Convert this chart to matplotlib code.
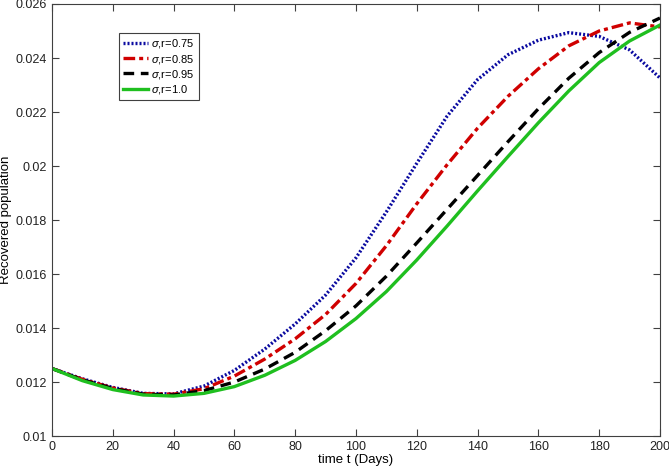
import matplotlib
matplotlib.use("Agg")
import matplotlib.pyplot as plt

plt.rcParams['font.family'] = ['Liberation Sans', 'DejaVu Sans']
plt.rcParams['mathtext.fontset'] = 'custom'
plt.rcParams['mathtext.it'] = 'Liberation Sans:italic'

# days
t = [0, 10, 20, 30, 40, 50, 60, 70, 80, 90, 100,
     110, 120, 130, 140, 150, 160, 170, 180, 190, 200]

# recovered population for each sigma,r value
r075 = [0.0125, 0.01212, 0.01180, 0.01158, 0.01156, 0.01185, 0.01243, 0.01322, 0.01415, 0.01522, 0.01660,
        0.01830, 0.02010, 0.02185, 0.02320, 0.02412, 0.02466, 0.02494, 0.02480, 0.02430, 0.02326]
r085 = [0.0125, 0.01210, 0.01178, 0.01157, 0.01155, 0.01175, 0.01222, 0.01285, 0.01360, 0.01450, 0.01565,
        0.01705, 0.01860, 0.02005, 0.02140, 0.02258, 0.02360, 0.02445, 0.02500, 0.02530, 0.02515]
r095 = [0.0125, 0.01208, 0.01176, 0.01155, 0.01152, 0.01168, 0.01200, 0.01248, 0.01310, 0.01390, 0.01482,
        0.01592, 0.01715, 0.01840, 0.01965, 0.02090, 0.02212, 0.02325, 0.02420, 0.02495, 0.02548]
r100 = [0.0125, 0.01205, 0.01172, 0.01152, 0.01148, 0.01158, 0.01183, 0.01225, 0.01280, 0.01350, 0.01435,
        0.01535, 0.01652, 0.01778, 0.01908, 0.02035, 0.02160, 0.02278, 0.02383, 0.02463, 0.02522]

labels = ['$\\sigma$,r=0.75', '$\\sigma$,r=0.85', '$\\sigma$,r=0.95', '$\\sigma$,r=1.0']

xticks = [0, 20, 40, 60, 80, 100, 120, 140, 160, 180, 200]
yticks = [0.01, 0.012, 0.014, 0.016, 0.018, 0.02, 0.022, 0.024, 0.026]
ytick_labels = ['0.01', '0.012', '0.014', '0.016', '0.018', '0.02', '0.022', '0.024', '0.026']

fig = plt.figure(figsize=(6.69, 4.76), dpi=100)
ax = fig.add_axes([0.0777, 0.084, 0.9088, 0.9076])

ax.plot(t, r075, color='#0a0aa0', linestyle=(0, (0.6, 0.6)), linewidth=2.4, label=labels[0])
ax.plot(t, r085, color='#d00000', linestyle=(0, (3.5, 1.2, 1.2, 1.2)), linewidth=2.4, label=labels[1])
ax.plot(t, r095, color='black', linestyle=(0, (3.2, 2.0)), linewidth=2.4, label=labels[2])
ax.plot(t, r100, color='#1fbf1f', linestyle='-', linewidth=2.4, label=labels[3])

ax.set_xlim(0, 200)
ax.set_ylim(0.01, 0.026)
ax.set_xticks(xticks)
ax.set_yticks(yticks)
ax.set_yticklabels(ytick_labels)
ax.tick_params(direction='in', top=True, right=True, labelsize=9, length=5,
               color='#404040', labelcolor='#222222', width=0.8)
for s in ax.spines.values():
    s.set_color('#404040')
    s.set_linewidth(0.8)

ax.set_xlabel('time t (Days)', fontsize=9.5, labelpad=1)
ax.set_ylabel('Recovered population', fontsize=9.5, labelpad=3)

leg = ax.legend(loc='upper left', bbox_to_anchor=(0.110, 0.933), borderaxespad=0,
                fontsize=8, handlelength=2.2, handletextpad=0.3, labelspacing=0.2,
                borderpad=0.4, fancybox=False, framealpha=1)
leg.get_frame().set_edgecolor('#404040')
leg.get_frame().set_linewidth(0.8)

fig.savefig('out.png', dpi=100)
